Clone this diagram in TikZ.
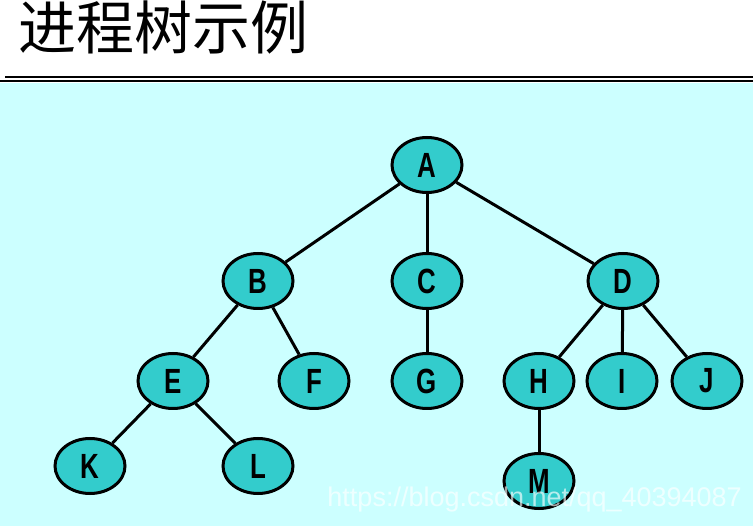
\documentclass[tikz,border=0pt]{standalone}
\usepackage{fontspec}
\setmainfont{Liberation Sans}
\newfontfamily\cjk{Noto Sans CJK SC}
\newfontfamily\nodefont[FakeStretch=0.74]{Liberation Sans}
\usetikzlibrary{shapes.geometric}
\definecolor{bgcyan}{HTML}{CCFFFF}
\definecolor{teal2}{HTML}{33CCCC}
\tikzset{x=1pt,y=-1pt,proc/.style={ellipse,draw,line width=3pt,fill=teal2,minimum width=70pt,minimum height=55pt,inner sep=0pt,font=\nodefont\bfseries\fontsize{35}{35}\selectfont},edge/.style={line width=3pt}}

\begin{document}
\begin{tikzpicture}
\useasboundingbox (0,0) rectangle (753,526);
\fill[white] (0,0) rectangle (753,83);
\fill[bgcyan] (0,83) rectangle (753,526);
\draw[line width=1.2pt] (5,77)--(753,77);\draw[line width=2.5pt] (0,81)--(753,81);
\node[anchor=base west,inner sep=0pt,font=\cjk\fontsize{58}{58}\selectfont] (title) at (18,50){进程树示例};
% process nodes
\node[proc] (A) at (427,165){A};
\node[proc] (B) at (258,281){B};\node[proc] (C) at (427,281){C};\node[proc] (D) at (623,281){D};
\node[proc] (E) at (173,381){E};\node[proc] (F) at (314,381){F};\node[proc] (G) at (427,381){G};
\node[proc] (H) at (539,381){H};\node[proc] (I) at (622,381){I};\node[proc] (J) at (707,381){J};
\node[proc] (K) at (90,466){K};\node[proc] (L) at (258,466){L};\node[proc] (M) at (539,481){M};
% parent -- child
\foreach \p/\c in {A/B,A/C,A/D,B/E,B/F,C/G,D/H,D/I,D/J,E/K,E/L,H/M}
  \draw[edge] (\p)--(\c);
\node[anchor=base east,inner sep=0pt,text=white,opacity=.65,font=\fontsize{27}{27}\selectfont] (mark) at (742,507){https://blog.csdn.net/qq\_40394087};
\end{tikzpicture}
\end{document}
